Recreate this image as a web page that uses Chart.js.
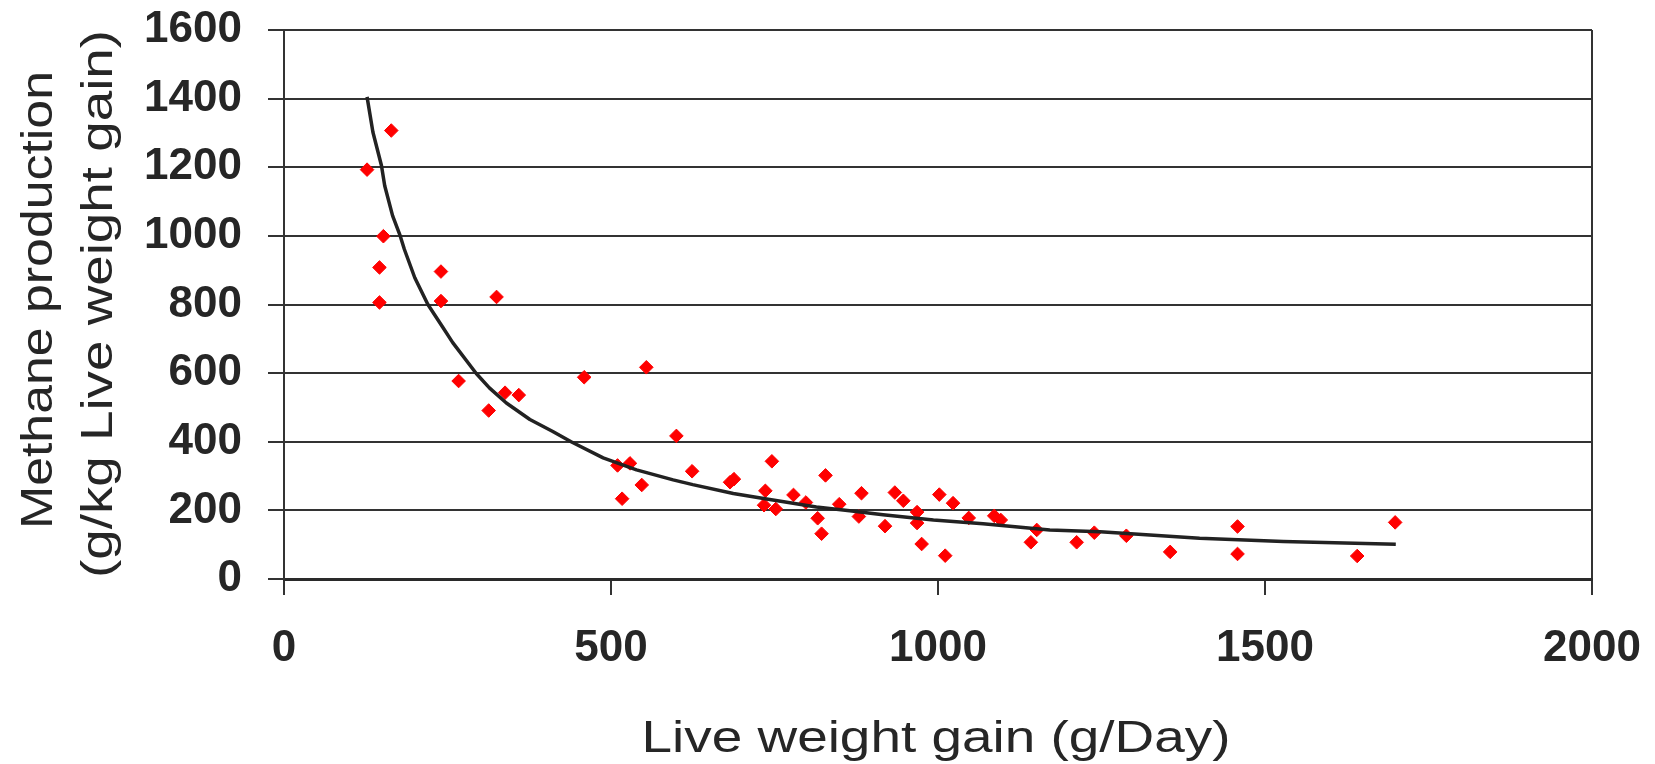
<!DOCTYPE html>
<html>
<head>
<meta charset="utf-8">
<script src="https://cdn.jsdelivr.net/npm/chart.js@4/dist/chart.umd.min.js"></script>
<style>
  html, body { margin: 0; padding: 0; background: #ffffff; }
  #wrap { width: 1655px; height: 764px; }
</style>
</head>
<body>
<div id="wrap"><canvas id="c" width="1655" height="764"></canvas></div>
<script>
// ---- data ----
const gainX = [164, 127, 152, 146, 240, 146, 240, 325, 267, 313, 338, 359, 459, 554, 600, 510, 529, 547, 517, 624,
               682, 688, 746, 736, 734, 752, 779, 798, 816, 822, 828, 849, 879, 883, 919, 934, 947, 968, 968, 975,
               1002, 1011, 1023, 1047, 1086, 1096, 1142, 1151, 1212, 1239, 1288, 1355, 1458, 1458, 1641, 1699];
const methaneY = [1307, 1193, 999, 908, 896, 806, 810, 822, 577, 491, 543, 536, 588, 617, 417, 331, 337, 274, 234, 314,
                  282, 291, 343, 257, 215, 204, 245, 223, 177, 132, 302, 218, 182, 250, 154, 252, 228, 195, 163, 102,
                  246, 68, 221, 178, 184, 172, 107, 143, 107, 135, 126, 79, 153, 73, 67, 165];
const trendX = [127, 136, 149, 154, 166, 177, 184, 200, 220, 243, 258, 294, 314, 340, 376, 411, 439, 488, 539, 595,
                625, 687, 738, 814, 865, 916, 993, 1069, 1171, 1248, 1400, 1528, 1700];
const trendY = [1405, 1302, 1205, 1146, 1059, 1004, 961, 878, 800, 733, 689, 599, 557, 513, 465, 430, 400, 353, 318, 289,
                275, 249, 233, 210, 199, 187, 172, 161, 143, 138, 119, 109, 101];
const xTicks = [0, 500, 1000, 1500, 2000];
const yTicks = [0, 200, 400, 600, 800, 1000, 1200, 1400, 1600];
const xTitle = "Live weight gain (g/Day)";
const yTitle1 = "Methane production";
const yTitle2 = "(g/kg Live weight gain)";

const points = gainX.map((x, i) => ({ x: x, y: methaneY[i] }));
const trend = trendX.map((x, i) => ({ x: x, y: trendY[i] }));

const FONT = '"Liberation Sans", Arial, Helvetica, sans-serif';
const TEXT = '#262626';
const LINE = '#333333';

const axisTitles = {
  id: 'axisTitles',
  afterDraw(chart) {
    const ctx = chart.ctx;
    ctx.save();
    ctx.fillStyle = TEXT;
    ctx.font = '45px ' + FONT;
    ctx.textAlign = 'center';
    ctx.textBaseline = 'alphabetic';
    function stretched(text, cx, cy, rot, targetW) {
      const w = ctx.measureText(text).width;
      ctx.save();
      ctx.translate(cx, cy);
      if (rot) ctx.rotate(rot);
      ctx.scale(targetW / w, 1);
      ctx.fillText(text, 0, 0);
      ctx.restore();
    }
    stretched(xTitle, 936, 752, 0, 589);
    stretched(yTitle1, 52, 300, -Math.PI / 2, 458);
    stretched(yTitle2, 112, 304, -Math.PI / 2, 548);
    ctx.restore();
  }
};

function noPad(scale) {
  scale.paddingTop = 0; scale.paddingBottom = 0;
  scale.paddingLeft = 0; scale.paddingRight = 0;
}

new Chart(document.getElementById('c'), {
  type: 'scatter',
  data: {
    datasets: [
      {
        label: 'Trend',
        data: trend,
        showLine: true,
        borderColor: '#222222',
        borderWidth: 3.5,
        borderJoinStyle: 'round',
        pointRadius: 0,
        fill: false,
        tension: 0
      },
      {
        label: 'Observed',
        data: points,
        pointStyle: 'rectRot',
        pointRadius: 6.8,
        pointBackgroundColor: '#ff0000',
        pointBorderColor: '#ff0000',
        pointBorderWidth: 1,
        showLine: false
      }
    ]
  },
  plugins: [axisTitles],
  options: {
    responsive: false,
    devicePixelRatio: 1,
    animation: false,
    layout: { padding: { top: 30, right: 63, left: 0, bottom: 0 } },
    plugins: {
      legend: { display: false },
      tooltip: { enabled: false },
      title: { display: false }
    },
    scales: {
      x: {
        type: 'linear',
        min: 0,
        max: 2000,
        afterBuildTicks(scale) { scale.ticks = xTicks.map(v => ({ value: v })); },
        afterFit(scale) { scale.height = 185; noPad(scale); },
        ticks: {
          color: TEXT,
          padding: 27,
          maxRotation: 0,
          callback: (v) => String(v),
          font: { family: FONT, size: 44, weight: 'bold' }
        },
        grid: {
          drawOnChartArea: true,
          drawTicks: true,
          tickLength: 16,
          lineWidth: 2,
          color: (c) => (c.tick && c.tick.value === 2000) ? LINE : 'rgba(0,0,0,0)',
          tickColor: LINE,
          tickWidth: 2
        },
        border: { display: true, color: '#2a2a2a', width: 3 }
      },
      y: {
        type: 'linear',
        min: 0,
        max: 1600,
        afterBuildTicks(scale) { scale.ticks = yTicks.map(v => ({ value: v })); },
        afterFit(scale) { scale.width = 284; noPad(scale); },
        ticks: {
          color: TEXT,
          padding: 26,
          callback: (v) => String(v),
          font: { family: FONT, size: 44, weight: 'bold' }
        },
        grid: {
          drawOnChartArea: true,
          drawTicks: true,
          tickLength: 16,
          lineWidth: 2,
          color: LINE,
          tickColor: LINE
        },
        border: { display: true, color: LINE, width: 2 }
      }
    }
  }
});
</script>
</body>
</html>
